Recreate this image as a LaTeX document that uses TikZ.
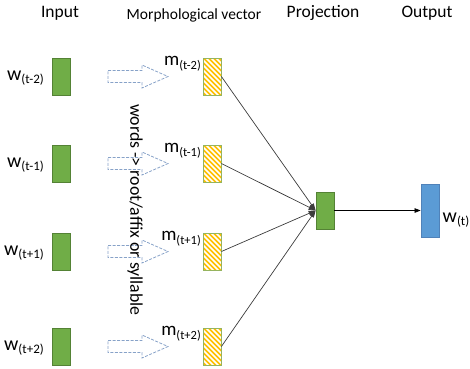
\documentclass[tikz,border=0pt]{standalone}
\usepackage{fontspec}
\setmainfont{Carlito}
\usetikzlibrary{arrows.meta}

\definecolor{boxgreen}{RGB}{112,173,71}
\definecolor{boxgreenline}{RGB}{84,130,53}
\definecolor{hatchyellow}{RGB}{255,192,0}
\definecolor{hatchline}{RGB}{150,180,95}
\definecolor{outblue}{RGB}{91,155,213}
\definecolor{outblueline}{RGB}{80,130,185}
\definecolor{blockgrey}{RGB}{135,162,200}
\definecolor{linkgrey}{RGB}{60,60,60}

\newcommand{\fsz}[1]{\fontsize{#1}{#1}\selectfont}
\newcommand{\wlab}[1]{{\fsz{20}w}\raisebox{-3pt}{\fsz{13}(#1)}}
\newcommand{\mlab}[1]{{\fsz{19}m}\raisebox{-4pt}{\fsz{12.5}(#1)}}

\tikzset{
  inbox/.style={draw=boxgreenline, fill=boxgreen, line width=0.8pt, inner sep=0pt,
    minimum width=18pt, minimum height=37pt},
  morphbox/.style={draw=hatchline, fill=hatchyellow, line width=0.8pt, inner sep=0pt,
    minimum width=18pt, minimum height=37pt,
    path picture={
      \foreach \k in {-42,-37,...,22}
        \draw[white, line width=1.7pt]
          ([xshift=\k pt]path picture bounding box.north west) -- ++(44pt,-44pt);
    }},
  outbox/.style={draw=outblueline, fill=outblue, line width=0.8pt, inner sep=0pt,
    minimum width=18pt, minimum height=53pt},
  title/.style={font=\fsz{17.5}, anchor=base, inner sep=0pt},
  lab/.style={anchor=base east, inner sep=0pt},
  blockarrow/.style={draw=blockgrey, line width=0.8pt, dash pattern=on 3pt off 1.5pt},
  link/.style={draw=linkgrey, line width=0.7pt, -{Triangle[length=7pt,width=5pt]}},
}

\begin{document}
\begin{tikzpicture}[x=1pt, y=-1pt]
  \useasboundingbox (0,0) rectangle (470,368);

  % column headings
  \node[title] (hin)   at (60,17.3)  {Input};
  \node[title, font=\fsz{15.5}] (hmorph) at (194,19.3) {Morphological vector};
  \node[title] (hproj) at (323,17.3) {Projection};
  \node[title] (hout)  at (427,17.5) {Output};

  % input words and their morphological vectors
  \foreach \i/\yc/\sub in {1/76.5/t-2, 2/163.5/t-1, 3/251.5/t+1, 4/346.5/t+2} {
    \node[inbox]    (in\i) at (61,\yc)  {};
    \node[morphbox] (m\i)  at (212,\yc) {};
    \node[lab] (win\i) at (44,\yc+4) {\wlab{\sub}};
    \node[lab] (mlab\i) at (201,\yc-11.5) {\mlab{\sub}};
    % dashed block arrow: word -> morphological units
    \draw[blockarrow] (108,\yc-6) -- (142,\yc-6) -- (142,\yc-11.5) -- (168,\yc)
      -- (142,\yc+11.5) -- (142,\yc+6) -- (108,\yc+6) -- cycle;
  }

  % decomposition note
  \node[rotate=-90, font=\fsz{17.8}, inner sep=0pt] (note) at (135,210)
    {words -> root/affix or syllable};

  % projection and output layers
  \node[inbox]  (proj) at (325,210.5) {};
  \node[outbox] (out)  at (430,210.5) {};
  \node[anchor=base west, inner sep=0pt] (wout) at (442.5,222) {\wlab{t}};

  % connections
  \foreach \i in {1,...,4}
    \draw[link] (m\i.east) -- (proj.west);
  \draw[draw=black, line width=0.7pt, -{Triangle[length=6pt,width=4.5pt]}]
    (proj.east) -- (out.west);
\end{tikzpicture}
\end{document}
